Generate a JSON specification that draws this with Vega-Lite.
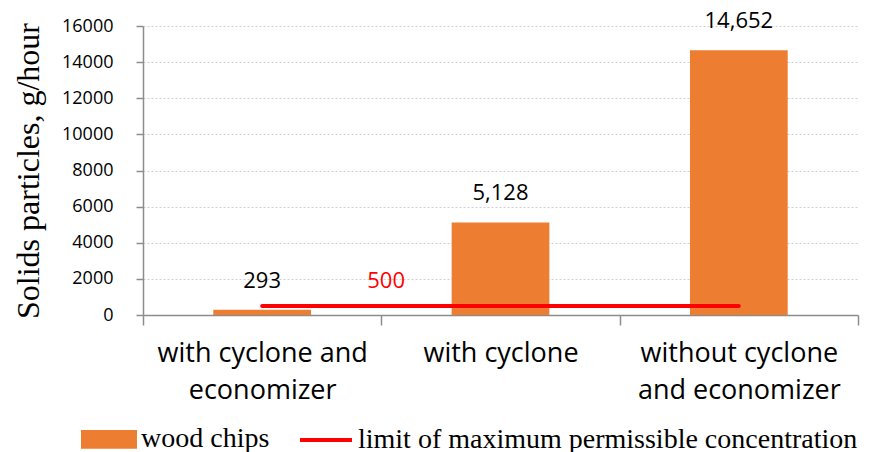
{
  "$schema": "https://vega.github.io/schema/vega-lite/v6.json",
  "width": 715,
  "height": 289,
  "autosize": {"type": "none"},
  "padding": {"left": 143, "top": 26, "right": 24, "bottom": 137},
  "background": "white",
  "datasets": {
    "bars": [
      {"category": "with cyclone and economizer", "value": 293, "series": "wood chips"},
      {"category": "with cyclone", "value": 5128, "series": "wood chips"},
      {"category": "without cyclone and economizer", "value": 14652, "series": "wood chips"}
    ],
    "limit": [
      {"category": "with cyclone and economizer", "value": 500, "series": "limit of maximum permissible concentration"},
      {"category": "with cyclone", "value": 500, "series": "limit of maximum permissible concentration"},
      {"category": "without cyclone and economizer", "value": 500, "series": "limit of maximum permissible concentration"}
    ],
    "limitLabel": [
      {"category": "with cyclone and economizer", "value": 500}
    ]
  },
  "config": {
    "view": {"stroke": null},
    "font": "Open Sans"
  },
  "encoding": {
    "x": {
      "field": "category",
      "type": "nominal",
      "sort": null,
      "scale": {"paddingInner": 0, "paddingOuter": 0},
      "axis": {
        "title": null,
        "labelAngle": 0,
        "labelFont": "Open Sans",
        "labelFontSize": 27,
        "labelColor": "#000000",
        "labelLineHeight": 37,
        "labelBaseline": "top",
        "labelPadding": 15,
        "labelOverlap": false,
        "labelLimit": 400,
        "tickBand": "extent",
        "tickSize": 10,
        "tickColor": "#8c8c8c",
        "domainColor": "#8c8c8c",
        "domainWidth": 1.5,
        "tickWidth": 1.5,
        "grid": false,
        "labelExpr": "datum.value == 'with cyclone and economizer' ? ['with cyclone and', 'economizer'] : datum.value == 'without cyclone and economizer' ? ['without cyclone', 'and economizer'] : datum.value"
      }
    },
    "y": {
      "field": "value",
      "type": "quantitative",
      "scale": {"domain": [0, 16000], "nice": false},
      "axis": {
        "title": "Solids particles, g/hour",
        "titleFont": "Liberation Serif",
        "titleFontWeight": "normal",
        "titleFontSize": 32,
        "titleColor": "#000000",
        "titlePadding": 16,
        "values": [0, 2000, 4000, 6000, 8000, 10000, 12000, 14000, 16000],
        "format": "d",
        "labelOverlap": false,
        "labelFont": "Open Sans",
        "labelFontSize": 18,
        "labelColor": "#000000",
        "labelPadding": 23,
        "tickSize": 7,
        "tickColor": "#8c8c8c",
        "tickWidth": 1.5,
        "domainColor": "#8c8c8c",
        "domainWidth": 1.5,
        "gridColor": "#cfcfcf",
        "gridDash": [2, 2],
        "gridWidth": 1
      }
    }
  },
  "layer": [
    {
      "data": {"name": "bars"},
      "mark": {"type": "bar", "color": "#ED7D31", "width": {"band": 0.41}},
      "encoding": {
        "color": {
          "field": "series",
          "type": "nominal",
          "scale": {
            "domain": ["wood chips", "limit of maximum permissible concentration"],
            "range": ["#ED7D31", "#FF0000"]
          },
          "legend": {
            "title": null,
            "orient": "none",
            "legendX": -62,
            "legendY": 385,
            "direction": "horizontal",
            "labelFont": "Liberation Serif",
            "labelFontSize": 28,
            "labelColor": "#000000",
            "labelOffset": 4,
            "labelLimit": 700,
            "columnPadding": 22,
            "symbolSize": 2700,
            "encode": {
              "symbols": {
                "update": {
                  "shape": {"signal": "datum.label == 'wood chips' ? 'M-1,-0.28H1V0.28H-1Z' : 'stroke'"},
                  "fill": {"signal": "datum.label == 'wood chips' ? '#ED7D31' : 'transparent'"},
                  "stroke": {"signal": "datum.label == 'wood chips' ? 'transparent' : '#FF0000'"},
                  "strokeWidth": {"value": 4},
                  "opacity": {"value": 1},
                  "fillOpacity": {"value": 1},
                  "strokeOpacity": {"value": 1}
                }
              }
            }
          }
        }
      }
    },
    {
      "data": {"name": "bars"},
      "mark": {"type": "text", "baseline": "bottom", "dy": -17, "fontSize": 22, "color": "#000000", "font": "Open Sans"},
      "encoding": {
        "text": {"field": "value", "type": "quantitative", "format": ","}
      }
    },
    {
      "data": {"name": "limit"},
      "mark": {"type": "line", "strokeWidth": 4, "strokeCap": "round"},
      "encoding": {
        "color": {"field": "series", "type": "nominal"}
      }
    },
    {
      "data": {"name": "limitLabel"},
      "mark": {"type": "text", "baseline": "bottom", "dy": -13, "dx": 124, "fontSize": 22, "color": "#FF0000", "font": "Open Sans"},
      "encoding": {
        "text": {"field": "value", "type": "quantitative"}
      }
    }
  ]
}
